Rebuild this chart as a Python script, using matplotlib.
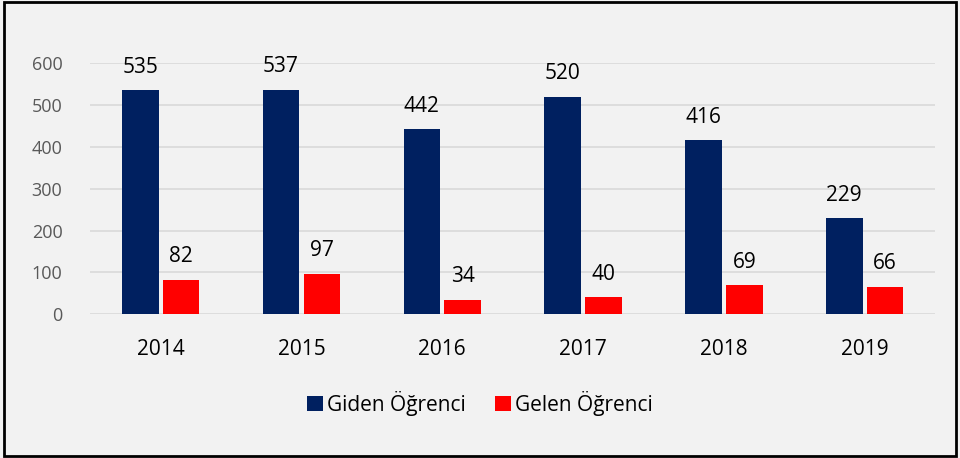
import numpy as np
import matplotlib.pyplot as plt
import matplotlib
from matplotlib.patches import Rectangle

matplotlib.rcParams.update({'font.family': ['Open Sans', 'DejaVu Sans'], 'font.size': 13})

years = ['2014', '2015', '2016', '2017', '2018', '2019']
giden = [535, 537, 442, 520, 416, 229]
gelen = [82, 97, 34, 40, 69, 66]

navy = '#002060'
red = '#FF0000'
bg = '#F2F2F2'

fig = plt.figure(figsize=(9.6, 4.58), dpi=100, facecolor=bg)
ax = fig.add_axes([0.094, 0.314, 0.88, 0.548])
ax.set_facecolor(bg)

x = np.arange(len(years))
w = 0.26
b1 = ax.bar(x - 0.145, giden, w, color=navy, label='Giden Öğrenci', zorder=3)
b2 = ax.bar(x + 0.145, gelen, w, color=red, label='Gelen Öğrenci', zorder=3)

for bars, vals in ((b1, giden), (b2, gelen)):
    for r, v in zip(bars, vals):
        ax.text(r.get_x() + r.get_width() / 2, v + 30, str(v), ha='center', va='bottom',
                fontsize=15, color='black', clip_on=False)

ax.set_xlim(-0.5, len(years) - 0.5)
ax.set_ylim(0, 600)
ax.set_yticks(range(0, 601, 100))
ax.yaxis.grid(True, color='#D9D9D9', linewidth=1.2, zorder=0)
ax.set_xticks(x)
ax.set_xticklabels(years, fontsize=15)
ax.tick_params(axis='y', colors='#595959', labelsize=13, length=0, pad=20)
ax.tick_params(axis='x', colors='black', length=0, pad=18)
for s in ax.spines.values():
    s.set_visible(False)

fig.legend(loc='center', bbox_to_anchor=(0.5, 0.12), ncol=2, frameon=False, fontsize=15,
           handlelength=0.75, handleheight=0.75, handletextpad=0.2, columnspacing=1.4)

fig.patches.append(Rectangle((0.004, 0.004), 0.992, 0.992, transform=fig.transFigure,
                             fill=False, edgecolor='black', linewidth=2))

plt.savefig('out.png', dpi=100, facecolor=bg)
